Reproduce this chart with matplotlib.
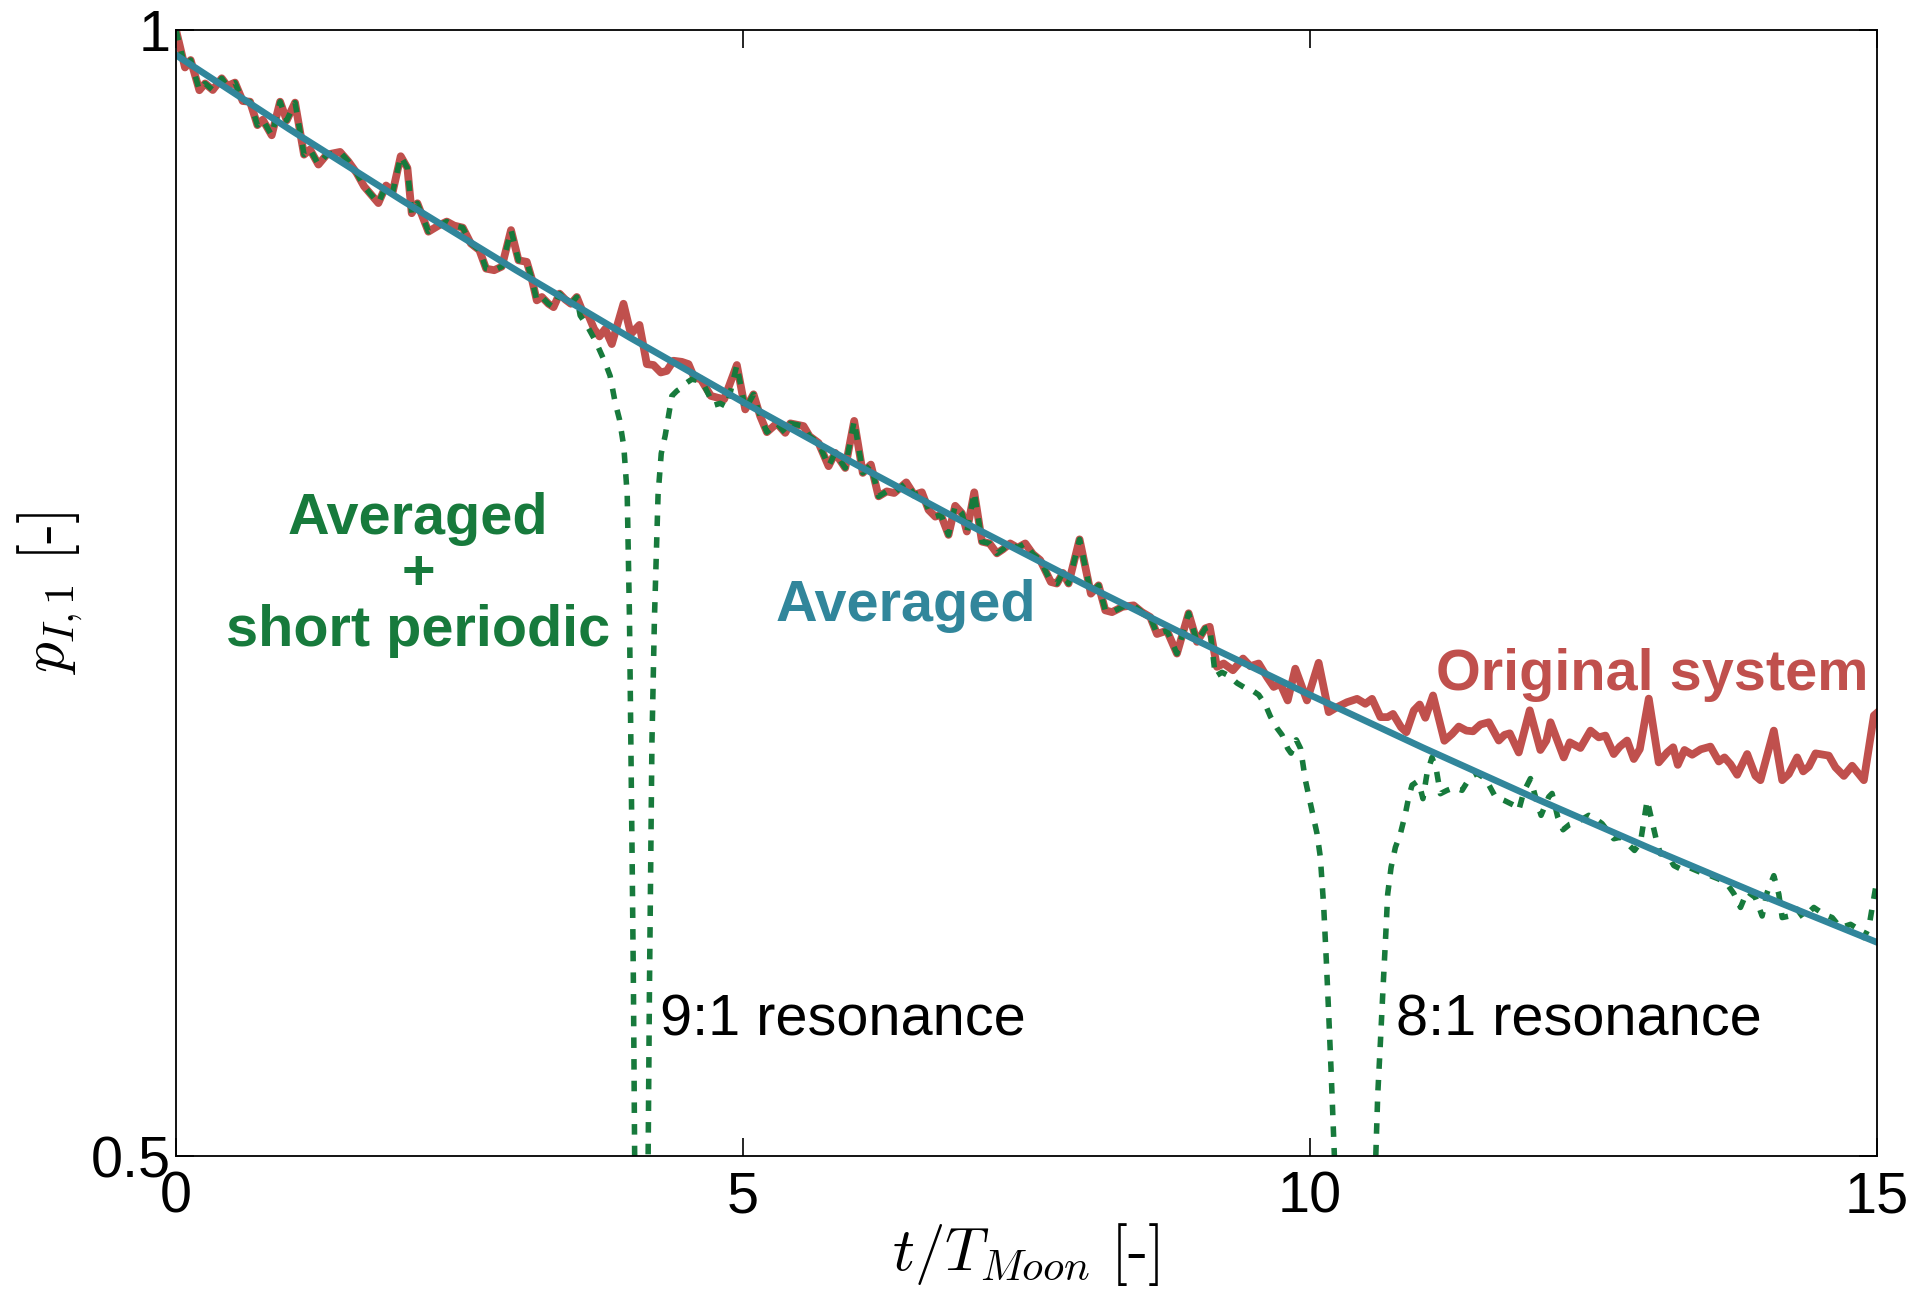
import numpy as np
import matplotlib
matplotlib.use('Agg')
import matplotlib.pyplot as plt

plt.rcParams['font.family'] = ['Liberation Sans', 'DejaVu Sans']
plt.rcParams['mathtext.fontset'] = 'cm'

# original system
red_t = [0.0, 0.079, 0.129, 0.206, 0.256, 0.324, 0.403, 0.453, 0.52, 0.588,
         0.653, 0.718, 0.765, 0.844, 0.918, 0.976, 1.05, 1.129, 1.182, 1.256,
         1.329, 1.447, 1.52, 1.594, 1.659, 1.785, 1.853, 1.912, 1.982, 2.041,
         2.079, 2.129, 2.226, 2.315, 2.388, 2.453, 2.529, 2.6, 2.676, 2.735,
         2.806, 2.874, 2.955, 3.021, 3.094, 3.138, 3.182, 3.227, 3.285, 3.33,
         3.383, 3.433, 3.483, 3.535, 3.588, 3.638, 3.688, 3.735, 3.785, 3.844,
         3.947, 4.012, 4.088, 4.153, 4.212, 4.276, 4.329, 4.388, 4.462, 4.521,
         4.571, 4.629, 4.718, 4.777, 4.835, 4.947, 5.021, 5.094, 5.153, 5.212,
         5.3, 5.374, 5.418, 5.535, 5.588, 5.668, 5.756, 5.814, 5.903, 5.982,
         6.058, 6.129, 6.197, 6.27, 6.335, 6.441, 6.511, 6.579, 6.638, 6.697,
         6.747, 6.814, 6.873, 6.932, 6.976, 7.041, 7.109, 7.176, 7.241, 7.294,
         7.358, 7.423, 7.491, 7.558, 7.623, 7.717, 7.77, 7.823, 7.873, 7.97,
         8.07, 8.138, 8.197, 8.256, 8.35, 8.447, 8.52, 8.594, 8.653, 8.741,
         8.829, 8.932, 9.006, 9.079, 9.118, 9.182, 9.241, 9.323, 9.412, 9.476,
         9.55, 9.623, 9.682, 9.741, 9.806, 9.873, 9.976, 10.079, 10.168, 10.241,
         10.329, 10.418, 10.491, 10.55, 10.624, 10.688, 10.735, 10.806, 10.853, 10.918,
         10.97, 11.02, 11.088, 11.188, 11.256, 11.315, 11.382, 11.441, 11.506, 11.58,
         11.668, 11.718, 11.765, 11.844, 11.941, 12.035, 12.088, 12.124, 12.241, 12.294,
         12.388, 12.477, 12.55, 12.609, 12.682, 12.735, 12.8, 12.859, 12.912, 12.991,
         13.079, 13.153, 13.206, 13.247, 13.306, 13.374, 13.45, 13.535, 13.609, 13.659,
         13.712, 13.771, 13.859, 13.932, 13.976, 14.094, 14.168, 14.226, 14.3, 14.353,
         14.403, 14.462, 14.579, 14.638, 14.712, 14.785, 14.888, 14.977, 15.0]
red_p = [1.000, 0.9834, 0.9867, 0.9733, 0.9763, 0.9734, 0.9786, 0.9752, 0.9767, 0.9685,
         0.9682, 0.9578, 0.9602, 0.9533, 0.9682, 0.9599, 0.9678, 0.9447, 0.9470, 0.9403,
         0.9447, 0.9459, 0.9417, 0.9365, 0.9306, 0.9232, 0.9310, 0.9283, 0.9440, 0.9388,
         0.9187, 0.9231, 0.9105, 0.9132, 0.9150, 0.9132, 0.9123, 0.9053, 0.9023, 0.8941,
         0.8934, 0.8950, 0.9112, 0.8978, 0.8971, 0.8896, 0.8800, 0.8815, 0.8785, 0.8770,
         0.8830, 0.8804, 0.8785, 0.8815, 0.8748, 0.8733, 0.8673, 0.8640, 0.8673, 0.8606,
         0.8785, 0.8651, 0.8691, 0.8517, 0.8513, 0.8480, 0.8487, 0.8532, 0.8527, 0.8517,
         0.8457, 0.8450, 0.8376, 0.8368, 0.8361, 0.8513, 0.8316, 0.8383, 0.8286, 0.8215,
         0.8254, 0.8212, 0.8254, 0.8242, 0.8197, 0.8167, 0.8064, 0.8123, 0.8056, 0.8265,
         0.8034, 0.8071, 0.7930, 0.7952, 0.7945, 0.7992, 0.7937, 0.7948, 0.7870, 0.7840,
         0.7848, 0.7759, 0.7888, 0.7855, 0.7774, 0.7948, 0.7729, 0.7721, 0.7677, 0.7695,
         0.7721, 0.7702, 0.7721, 0.7674, 0.7647, 0.7550, 0.7543, 0.7590, 0.7543, 0.7739,
         0.7498, 0.7535, 0.7424, 0.7416, 0.7440, 0.7446, 0.7416, 0.7394, 0.7319, 0.7334,
         0.7232, 0.7411, 0.7284, 0.7344, 0.7351, 0.7173, 0.7188, 0.7158, 0.7210, 0.7176,
         0.7188, 0.7128, 0.7084, 0.7098, 0.7024, 0.7165, 0.7024, 0.7191, 0.6972, 0.6994,
         0.7016, 0.7031, 0.7009, 0.7031, 0.6950, 0.6950, 0.6964, 0.6905, 0.6883, 0.6979,
         0.7006, 0.6947, 0.7046, 0.6845, 0.6875, 0.6908, 0.6890, 0.6887, 0.6917, 0.6927,
         0.6846, 0.6871, 0.6878, 0.6793, 0.6980, 0.6804, 0.6846, 0.6927, 0.6771, 0.6838,
         0.6813, 0.6890, 0.6860, 0.6868, 0.6786, 0.6819, 0.6846, 0.6764, 0.6808, 0.7032,
         0.6749, 0.6793, 0.6816, 0.6738, 0.6804, 0.6783, 0.6807, 0.6819, 0.6753, 0.6771,
         0.6741, 0.6694, 0.6786, 0.6689, 0.6670, 0.6890, 0.6670, 0.6697, 0.6771, 0.6709,
         0.6730, 0.6789, 0.6779, 0.6727, 0.6689, 0.6734, 0.6670, 0.6957, 0.6967]

# averaged + short periodic: where it leaves the original system
dip1_t = [3.565, 3.629, 3.70, 3.785, 3.829, 3.874, 3.912, 3.95, 3.98, 4.0,
          4.012, 4.024, 4.035, 4.046, 4.10, 4.164, 4.176, 4.187, 4.198, 4.22,
          4.252, 4.28, 4.315, 4.344, 4.374, 4.418, 4.462, 4.506, 4.55, 4.60,
          4.653, 4.697, 4.741, 4.8, 4.859]
dip1_p = [0.8733, 0.8685, 0.8620, 0.8524, 0.8465, 0.8346, 0.8271, 0.8150, 0.7936, 0.7387,
          0.6838, 0.6289, 0.5740, 0.4971, 0.45, 0.4971, 0.5740, 0.6289, 0.6838, 0.7387,
          0.7936, 0.8120, 0.8200, 0.8286, 0.8376, 0.8398, 0.8413, 0.8435, 0.8450, 0.8445,
          0.8428, 0.8383, 0.8334, 0.8343, 0.8328]
tail_t = [9.168, 9.226, 9.285, 9.359, 9.432, 9.491, 9.55, 9.609, 9.653, 9.712,
          9.756, 9.806, 9.835, 9.882, 9.92, 9.962, 10.0, 10.065, 10.094, 10.124,
          10.147, 10.168, 10.188, 10.206, 10.218, 10.40, 10.583, 10.60, 10.624, 10.647,
          10.671, 10.688, 10.718, 10.756, 10.80, 10.844, 10.874, 10.903, 10.947, 10.976,
          10.999, 11.035, 11.079, 11.118, 11.153, 11.212, 11.276, 11.344, 11.418, 11.476,
          11.55, 11.638, 11.712, 11.8, 11.844, 11.888, 11.947, 12.0, 12.041, 12.109,
          12.138, 12.188, 12.235, 12.294, 12.359, 12.462, 12.521, 12.579, 12.682, 12.741,
          12.865, 12.918, 12.977, 13.059, 13.094, 13.153, 13.212, 13.271, 13.344, 13.447,
          13.535, 13.609, 13.682, 13.741, 13.8, 13.859, 13.932, 13.991, 14.035, 14.094,
          14.138, 14.168, 14.241, 14.3, 14.353, 14.447, 14.535, 14.609, 14.682, 14.771,
          14.829, 14.888, 14.932, 14.962, 15.0]
tail_p = [0.7131, 0.7149, 0.7134, 0.7101, 0.7079, 0.7069, 0.7049, 0.7005, 0.6953, 0.6901,
          0.6871, 0.6811, 0.6790, 0.6849, 0.6810, 0.6670, 0.6581, 0.6432, 0.6328, 0.6105,
          0.5866, 0.5628, 0.5390, 0.5152, 0.5000, 0.45, 0.5000, 0.5271, 0.5509, 0.5747,
          0.5985, 0.6164, 0.6283, 0.6372, 0.6432, 0.6521, 0.6596, 0.6648, 0.6663, 0.6633,
          0.6588, 0.6700, 0.6771, 0.6714, 0.6610, 0.6625, 0.6637, 0.6625, 0.6685, 0.6700,
          0.6677, 0.6596, 0.6581, 0.6559, 0.6536, 0.6618, 0.6677, 0.6581, 0.6514, 0.6596,
          0.6611, 0.6506, 0.6450, 0.6474, 0.6484, 0.6514, 0.6499, 0.6477, 0.6410, 0.6417,
          0.6358, 0.6395, 0.6581, 0.6402, 0.6343, 0.6343, 0.6291, 0.6276, 0.6283, 0.6261,
          0.6246, 0.6231, 0.6209, 0.6167, 0.6105, 0.6176, 0.6149, 0.6067, 0.6171, 0.6246,
          0.6164, 0.6060, 0.6068, 0.6097, 0.6060, 0.6105, 0.6075, 0.6060, 0.6015, 0.6030,
          0.6012, 0.5971, 0.6015, 0.6105, 0.6216]

# averaged
avg_t = [0, 1, 2, 3, 4, 5, 6, 7, 8, 9, 10, 11, 12, 13, 14, 15]
avg_p = [0.9889, 0.9560, 0.9242, 0.8934, 0.8636, 0.8349, 0.8071, 0.7802,
         0.7542, 0.7291, 0.7049, 0.6814, 0.6587, 0.6368, 0.6156, 0.5951]

red_c = '#c0504d'
green_c = '#177a3c'
blue_c = '#31869b'

# green follows the original system outside the two resonances
rt = np.array(red_t)
rp = np.array(red_p)
keep = (rt <= 3.54) | ((rt >= 4.94) & (rt <= 9.12))
green_t = np.concatenate([rt[keep], dip1_t, tail_t])
green_p = np.concatenate([rp[keep], dip1_p, tail_p])
order = np.argsort(green_t)
green_t = green_t[order]
green_p = green_p[order]

fig = plt.figure(figsize=(19.28, 12.91), dpi=100)
ax = fig.add_axes([0.0913, 0.1043, 0.882, 0.8724])

ax.plot(rt, rp, color=red_c, linewidth=5.6, solid_joinstyle='round')
ax.plot(green_t, green_p, color=green_c, linewidth=4.0, linestyle=(0, (1.9, 2.0)))
ax.plot(avg_t, avg_p, color=blue_c, linewidth=4.8)

ax.set_xlim(0, 15)
ax.set_ylim(0.5, 1)
ax.set_xticks([0, 5, 10, 15])
ax.set_xticklabels(['0', '5', '10', '15'])
ax.set_yticks([0.5, 1])
ax.set_yticklabels(['0.5', '1'])
ax.tick_params(direction='in', length=13, width=1.2, top=True, right=True,
               labelsize=41.5)
ax.tick_params(axis='x', pad=10)
ax.tick_params(axis='y', pad=4)
for s in ax.spines.values():
    s.set_linewidth(1.3)

ax.set_xlabel(r'$t/T_{Moon}\ [\text{-}]$', fontsize=44, labelpad=-2)
ax.set_ylabel(r'$p_{I,1}\ [\text{-}]$', fontsize=44, labelpad=4)

ax.text(2.135, 0.758, 'Averaged\n+\nshort periodic', color=green_c, fontsize=41.5,
        fontweight='bold', ha='center', va='center', linespacing=1.05)
ax.text(6.44, 0.7442, 'Averaged', color=blue_c, fontsize=41.5, fontweight='bold',
        ha='center', va='center')
ax.text(13.02, 0.7136, 'Original system', color=red_c, fontsize=41.5, fontweight='bold',
        ha='center', va='center')
ax.text(4.27, 0.5601, '9:1 resonance', color='black', fontsize=41.5, ha='left', va='center')
ax.text(10.76, 0.5601, '8:1 resonance', color='black', fontsize=41.5, ha='left', va='center')

fig.savefig('out.png', dpi=100)
